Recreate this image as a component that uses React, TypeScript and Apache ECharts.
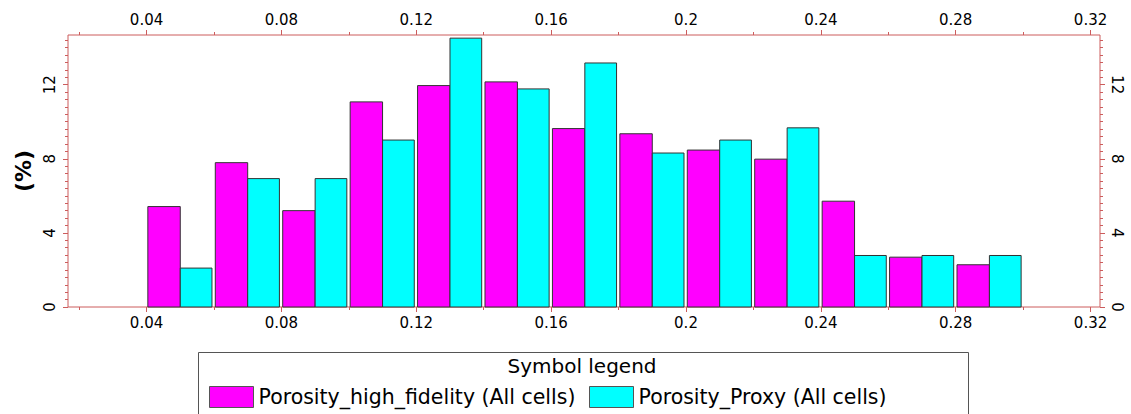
import React, { useEffect, useRef } from 'react';
import * as echarts from 'echarts';

// Histogram bins (left edge of each 0.02-wide porosity class)
const binStarts = [0.04, 0.06, 0.08, 0.1, 0.12, 0.14, 0.16, 0.18, 0.2, 0.22, 0.24, 0.26, 0.28];
const binWidth = 0.02;

// Percentage of cells in each bin
const highFidelity = [5.42, 7.79, 5.2, 11.07, 11.95, 12.15, 9.63, 9.35, 8.47, 7.98, 5.71, 2.69, 2.28];
const proxy = [2.1, 6.93, 6.93, 9.01, 14.51, 11.77, 13.17, 8.31, 9.01, 9.67, 2.78, 2.78, 2.78];

const seriesNames = ['Porosity_high_fidelity (All cells)', 'Porosity_Proxy (All cells)'];
const seriesColors = ['#ff00ff', '#00ffff'];

// Axis ticks and labels
const xTickLabels = [0.04, 0.08, 0.12, 0.16, 0.2, 0.24, 0.28, 0.32];
const xMinorTicks = [0.02, 0.06, 0.1, 0.14, 0.18, 0.22, 0.26, 0.3];
const yTickLabels = [0, 4, 8, 12];
const xRange = [0.0167, 0.3228];
const yRange = [0, 14.68];

const FONT = 'DejaVu Sans';
const AXIS_RED = '#cc5c5c';

// minor y ticks every 0.4, skipping the labelled ones
const yMinorTicks: number[] = [];
for (let i = 1; i <= 36; i++) {
  if (i % 10 !== 0) yMinorTicks.push(Math.round(i * 4) / 10);
}

const fmtX = (v: number) => String(parseFloat(v.toFixed(2)));

function barSeries(name: string, color: string, values: number[], offset: number, insetL: number, insetR: number) {
  return {
    name,
    type: 'custom',
    xAxisIndex: 0,
    yAxisIndex: 0,
    z: 3,
    itemStyle: { color, borderColor: '#333', borderWidth: 1 },
    data: values.map((v, i) => [binStarts[i] + offset, binStarts[i] + offset + binWidth / 2, v]),
    renderItem: (_params: any, api: any) => {
      const top = api.coord([api.value(0), api.value(2)]);
      const bottom = api.coord([api.value(1), 0]);
      const x = top[0] + insetL;
      const w = bottom[0] - insetR - x;
      return {
        type: 'rect',
        shape: { x, y: top[1], width: w, height: bottom[1] - top[1] },
        style: { fill: color, stroke: '#333', lineWidth: 1 },
      };
    },
  };
}

function xAxis(position: 'top' | 'bottom', labelled: boolean) {
  return {
    type: 'value',
    position,
    min: xRange[0],
    max: xRange[1],
    axisLine: { show: false, onZero: false },
    splitLine: { show: false },
    axisTick: labelled
      ? { show: true, customValues: xTickLabels, length: 5, lineStyle: { color: AXIS_RED } }
      : { show: true, customValues: xMinorTicks, length: 3, lineStyle: { color: AXIS_RED } },
    axisLabel: labelled
      ? {
          show: true,
          customValues: xTickLabels,
          formatter: fmtX,
          margin: 8,
          color: '#000',
          fontFamily: FONT,
          fontSize: 15,
        }
      : { show: false },
  };
}

function yAxis(position: 'left' | 'right', labelled: boolean) {
  return {
    type: 'value',
    position,
    min: yRange[0],
    max: yRange[1],
    axisLine: { show: false, onZero: false },
    splitLine: { show: false },
    axisTick: labelled
      ? { show: true, customValues: yTickLabels, length: 5, lineStyle: { color: AXIS_RED } }
      : { show: true, customValues: yMinorTicks, length: 3, lineStyle: { color: AXIS_RED } },
    axisLabel: labelled
      ? {
          show: true,
          customValues: yTickLabels,
          rotate: position === 'left' ? 90 : -90,
          margin: position === 'left' ? 11 : 9,
          color: '#000',
          fontFamily: FONT,
          fontSize: 15,
        }
      : { show: false },
    ...(position === 'left' && labelled
      ? {
          name: '(%)',
          nameLocation: 'middle',
          nameRotate: 90,
          nameGap: 31,
          nameTextStyle: { fontFamily: FONT, fontSize: 22, fontWeight: 'bold', color: '#000' },
        }
      : {}),
  };
}

function legendFor(index: number, left: number) {
  return {
    show: true,
    left,
    top: 386,
    padding: 0,
    icon: 'rect',
    itemWidth: 44,
    itemHeight: 21,
    itemGap: 0,
    textStyle: { fontFamily: FONT, fontSize: 20.5, color: '#000', padding: [2, 0, 0, 0] },
    data: [
      {
        name: seriesNames[index],
        itemStyle: { color: seriesColors[index], borderColor: '#555', borderWidth: 1 },
      },
    ],
    selectedMode: false,
  };
}

export default function App() {
  const ref = useRef<HTMLDivElement>(null);

  useEffect(() => {
    if (!ref.current) return;
    const chart = echarts.init(ref.current, null, { renderer: 'svg' });
    chart.setOption({
      animation: false,
      backgroundColor: '#fff',
      // the grid border doubles as the four axis lines
      grid: {
        show: true,
        left: 68,
        right: 31,
        top: 35,
        bottom: 107,
        containLabel: false,
        borderColor: AXIS_RED,
        borderWidth: 1,
        backgroundColor: 'transparent',
      },
      xAxis: [xAxis('bottom', true), xAxis('top', true), xAxis('bottom', false), xAxis('top', false)],
      yAxis: [yAxis('left', true), yAxis('right', true), yAxis('left', false), yAxis('right', false)],
      legend: [legendFor(0, 209), legendFor(1, 589)],
      graphic: [
        {
          type: 'rect',
          shape: { x: 198.5, y: 352.5, width: 770, height: 90 },
          style: { fill: 'none', stroke: '#555', lineWidth: 1 },
          silent: true,
        },
        {
          type: 'text',
          x: 582,
          y: 366,
          style: {
            text: 'Symbol legend',
            fontFamily: FONT,
            fontSize: 20,
            fill: '#000',
            align: 'center',
            verticalAlign: 'middle',
          },
          silent: true,
        },
      ],
      series: [
        barSeries(seriesNames[0], seriesColors[0], highFidelity, 0, 1.3, 0),
        barSeries(seriesNames[1], seriesColors[1], proxy, binWidth / 2, 0, 2),
      ],
    });
    return () => chart.dispose();
  }, []);

  return (
    <div
      ref={ref}
      style={{ position: 'fixed', left: 0, top: 0, width: 1131, height: 414, background: '#fff' }}
    />
  );
}
